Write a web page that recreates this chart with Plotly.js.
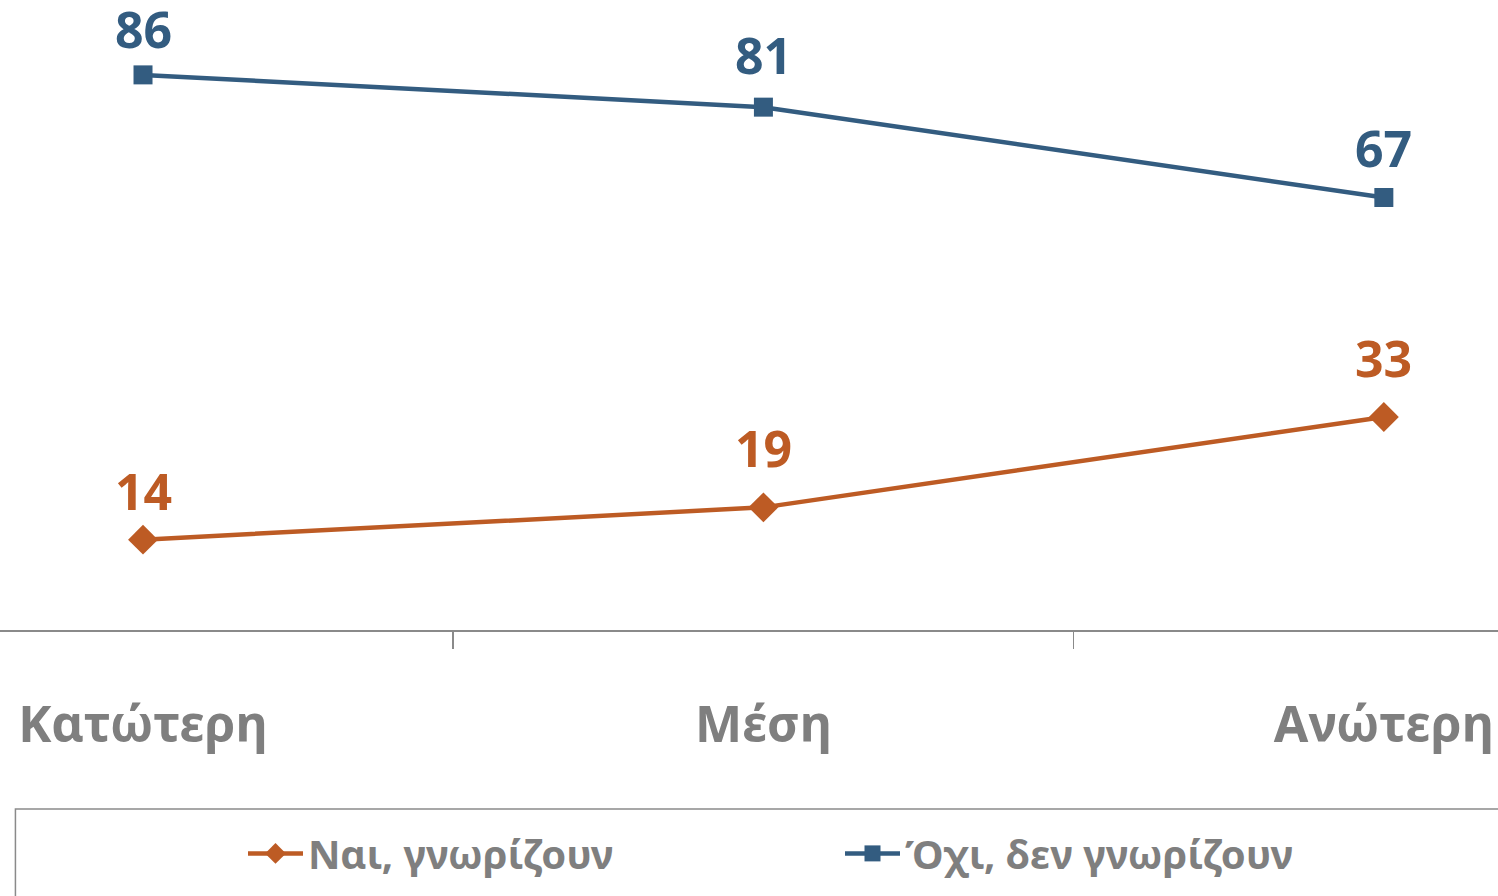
<!DOCTYPE html>
<html>
<head>
<meta charset="utf-8">
<script src="https://cdn.plot.ly/plotly-3.0.1.min.js"></script>
<style>html,body{margin:0;padding:0;background:#fff;}#chart{width:1498px;height:896px;}</style>
</head>
<body>
<div id="chart"></div>
<script>
const categories = ["Κατώτερη", "Μέση", "Ανώτερη"];
const seriesNames = ["Ναι, γνωρίζουν", "Όχι, δεν γνωρίζουν"];
const yesValues = [14, 19, 33];
const noValues = [86, 81, 67];

// label offsets above the markers (px), style only
const yesLabelShift = [49, 59, 59];
const noLabelShift = [46, 52, 50];

const orange = "#BD5B24";
const blue = "#335C80";
const grey = "#7F7F7F";
const FONT = "Noto Sans, sans-serif";

const traces = [
  {
    x: categories, y: yesValues, name: seriesNames[0], type: "scatter",
    mode: "lines+markers",
    line: {color: orange, width: 4.5},
    marker: {symbol: "diamond", size: 23, color: orange},
    cliponaxis: false,
    legend: "legend"
  },
  {
    x: categories, y: noValues, name: seriesNames[1], type: "scatter",
    mode: "lines+markers",
    line: {color: blue, width: 4.5},
    marker: {symbol: "square", size: 19, color: blue},
    cliponaxis: false,
    legend: "legend2"
  }
];

function labels(values, shifts, color) {
  return values.map((v, i) => ({
    x: categories[i], y: v, xref: "x", yref: "y",
    text: String(v), showarrow: false,
    xanchor: "center", yanchor: "middle", yshift: shifts[i],
    font: {family: FONT, size: 50, color: color, weight: 700}
  }));
}

const legendCommon = {
  orientation: "h",
  xanchor: "left",
  y: -0.303, yanchor: "top",
  font: {family: FONT, size: 40, color: grey, weight: 700},
  itemwidth: 55,
  bgcolor: "rgba(0,0,0,0)", borderwidth: 0
};

const layout = {
  width: 1498, height: 896,
  margin: {l: 0, r: 0, t: 0, b: 266},
  paper_bgcolor: "#ffffff", plot_bgcolor: "#ffffff",
  font: {family: FONT, color: grey, weight: 700},
  showlegend: true,
  xaxis: {
    type: "category",
    range: [-0.2305, 2.184],
    showline: true, linecolor: "#8A8A8A", linewidth: 1.5,
    showgrid: false, zeroline: false,
    ticks: "outside", tickson: "boundaries", ticklen: 17, tickwidth: 1.5, tickcolor: "#8A8A8A",
    tickfont: {family: FONT, size: 50, color: grey, weight: 700},
    ticklabelstandoff: 50
  },
  yaxis: {
    range: [0, 97.6],
    visible: false, showgrid: false, zeroline: false
  },
  legend: Object.assign({}, legendCommon, {x: 243 / 1498}),
  legend2: Object.assign({}, legendCommon, {x: 840 / 1498}),
  annotations: labels(yesValues, yesLabelShift, orange).concat(labels(noValues, noLabelShift, blue)),
  shapes: [
    {type: "rect", xref: "paper", yref: "paper",
     x0: 0.0103, x1: 1.05, y0: -0.284, y1: -0.45,
     line: {color: "#8A8A8A", width: 1.5}, fillcolor: "rgba(0,0,0,0)"}
  ]
};

Plotly.newPlot("chart", traces, layout, {displayModeBar: false, staticPlot: true});
</script>
</body>
</html>
